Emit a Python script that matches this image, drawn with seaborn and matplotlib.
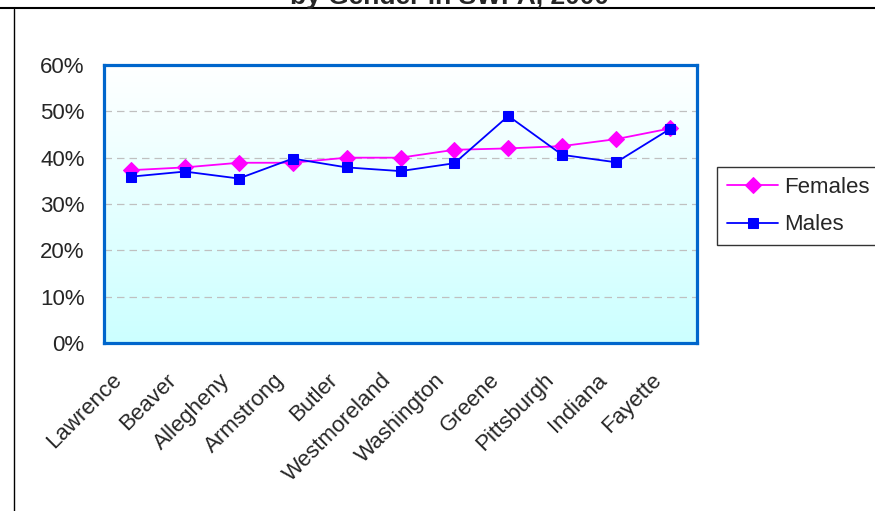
import matplotlib
matplotlib.use("Agg")
import matplotlib.pyplot as plt
from matplotlib.lines import Line2D
from matplotlib.ticker import FixedLocator, PercentFormatter
from matplotlib.transforms import ScaledTranslation
import seaborn as sns
import numpy as np

counties = ["Lawrence", "Beaver", "Allegheny", "Armstrong", "Butler", "Westmoreland",
            "Washington", "Greene", "Pittsburgh", "Indiana", "Fayette"]
females = [0.373, 0.379, 0.389, 0.389, 0.400, 0.400, 0.417, 0.420, 0.425, 0.440, 0.463]
males = [0.359, 0.370, 0.355, 0.398, 0.379, 0.371, 0.388, 0.490, 0.406, 0.390, 0.462]
y_ticks = [0.0, 0.1, 0.2, 0.3, 0.4, 0.5, 0.6]

sns.set_style("white")
plt.rcParams["font.family"] = ["Liberation Sans", "DejaVu Sans"]
fs = 16

fig = plt.figure(figsize=(8.75, 5.11), dpi=100)
ax = fig.add_axes([104 / 875, 1 - 343 / 511, (697 - 104) / 875, (343 - 65) / 511])

# gradient background: white at top to light cyan at bottom
grad = np.linspace(0, 1, 256).reshape(-1, 1)
top = np.array([1.0, 1.0, 1.0])
bot = np.array([0.80, 1.0, 1.0])
img = top + (bot - top) * grad[:, :, None]
ax.imshow(img, extent=[0, 1, 0, 1], transform=ax.transAxes, aspect="auto", zorder=0)

sns.lineplot(x=counties, y=females, ax=ax, color="#FF00FF", marker="D", markersize=8,
             markeredgecolor="#FF00FF", linewidth=1.3, sort=False, label="Females", zorder=3)
sns.lineplot(x=counties, y=males, ax=ax, color="#0000FF", marker="s", markersize=7.2,
             markeredgecolor="#0000FF", linewidth=1.3, sort=False, label="Males", zorder=4)

ax.set_xlim(-0.5, len(counties) - 0.5)
ax.set_ylim(0, 0.6)
ax.set_yticks(y_ticks)
ax.yaxis.set_major_formatter(PercentFormatter(1.0, decimals=0))
for yv in y_ticks[1:-1]:
    ax.axhline(yv, color="#C0C0C0", linestyle=(0, (6, 4)), linewidth=0.9, zorder=1)

ax.set_xticks(range(len(counties)))
ax.xaxis.set_minor_locator(FixedLocator(np.arange(-0.5, len(counties), 1.0)))
ax.tick_params(axis="x", which="major", length=0, pad=24.5)
ax.tick_params(axis="x", which="minor", length=5, width=1, color="#555555", direction="out")
ax.tick_params(axis="y", length=5, width=1, color="#555555", direction="out", labelsize=fs, pad=9)
ax.set_xticklabels(counties, rotation=45, ha="right", va="center", rotation_mode="anchor", fontsize=fs)
shift = ScaledTranslation(-12 / 100, 0, fig.dpi_scale_trans)
for lab in ax.get_xticklabels():
    lab.set_transform(lab.get_transform() + shift)
ax.set_xlabel("")
ax.set_ylabel("")

for sp in ax.spines.values():
    sp.set_color("#0066CC")
    sp.set_linewidth(2.3)
    sp.set_visible(True)

leg = ax.legend(loc="upper left", bbox_to_anchor=(717 / 875, 1 - 167 / 511),
                bbox_transform=fig.transFigure, fontsize=fs, frameon=True, fancybox=False,
                edgecolor="black", handlelength=2.3, handletextpad=0.25, borderpad=0.45,
                labelspacing=0.74, borderaxespad=0)
leg.get_frame().set_linewidth(1.0)

# cropped title and outer chart border
fig.text(0.514, 1 - 4 / 511, "by Gender in SWPA, 2000", ha="center", va="baseline",
         fontsize=19, fontweight="bold")
fig.add_artist(Line2D([0, 1], [1 - 7.7 / 511] * 2, transform=fig.transFigure, color="black", lw=1.5))
fig.add_artist(Line2D([14 / 875] * 2, [0, 1 - 9 / 511], transform=fig.transFigure, color="black", lw=1))

fig.savefig("out.png", dpi=100)
